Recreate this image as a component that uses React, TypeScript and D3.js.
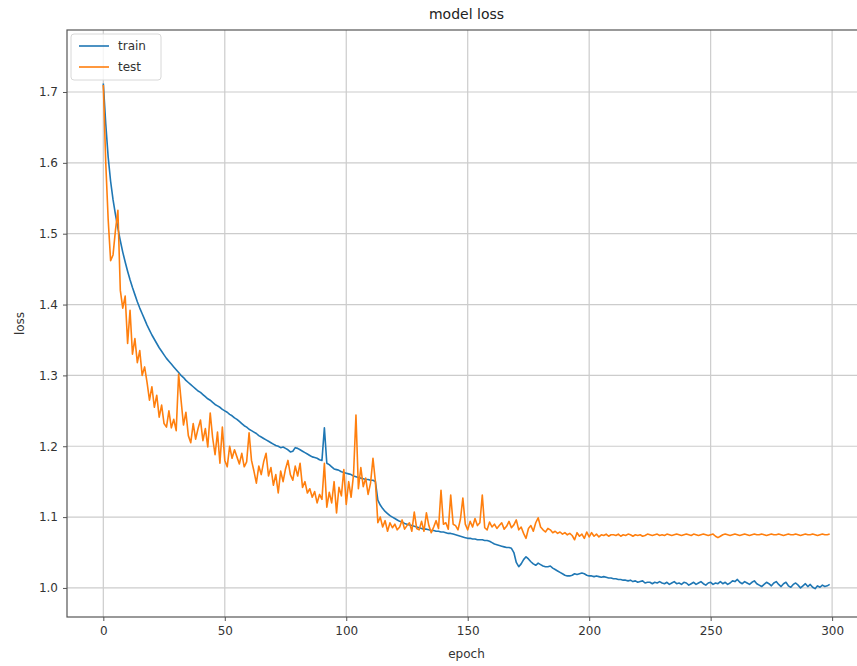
import React, { useEffect, useRef } from "react";
import * as d3 from "d3";

const trainLoss = [
  1.712, 1.655, 1.608, 1.574, 1.548, 1.527, 1.508, 1.490, 1.474, 1.460,
  1.447, 1.435, 1.424, 1.414, 1.404, 1.395, 1.387, 1.379, 1.371, 1.364,
  1.357, 1.351, 1.345, 1.339, 1.334, 1.329, 1.324, 1.320, 1.316, 1.312,
  1.308, 1.304, 1.300, 1.297, 1.293, 1.290, 1.287, 1.284, 1.281, 1.278,
  1.276, 1.273, 1.270, 1.267, 1.265, 1.262, 1.259, 1.257, 1.255, 1.252,
  1.250, 1.248, 1.245, 1.243, 1.240, 1.238, 1.235, 1.232, 1.229, 1.227,
  1.224, 1.222, 1.220, 1.218, 1.215, 1.213, 1.211, 1.209, 1.207, 1.205,
  1.203, 1.201, 1.200, 1.198, 1.199, 1.197, 1.195, 1.192, 1.193, 1.198,
  1.197, 1.195, 1.193, 1.191, 1.189, 1.187, 1.185, 1.184, 1.183, 1.181,
  1.180, 1.226, 1.176, 1.174, 1.171, 1.168, 1.167, 1.166, 1.164, 1.163,
  1.162, 1.161, 1.160, 1.158, 1.157, 1.156, 1.155, 1.154, 1.153, 1.153,
  1.152, 1.152, 1.150, 1.124, 1.117, 1.112, 1.108, 1.105, 1.102, 1.100,
  1.098, 1.096, 1.094, 1.093, 1.091, 1.090, 1.089, 1.088, 1.087, 1.086,
  1.085, 1.084, 1.083, 1.083, 1.082, 1.081, 1.081, 1.080, 1.080, 1.079,
  1.079, 1.078, 1.077, 1.077, 1.076, 1.075, 1.074, 1.073, 1.072, 1.071,
  1.070, 1.070, 1.069, 1.069, 1.068, 1.068, 1.068, 1.067, 1.067, 1.066,
  1.064, 1.062, 1.061, 1.060, 1.059, 1.058, 1.057, 1.057, 1.056, 1.050,
  1.036, 1.030, 1.034, 1.040, 1.044, 1.041, 1.037, 1.034, 1.032, 1.035,
  1.033, 1.031, 1.030, 1.030, 1.031, 1.028, 1.026, 1.024, 1.022, 1.020,
  1.018, 1.017, 1.017, 1.018, 1.020, 1.019, 1.020, 1.021, 1.020, 1.018,
  1.017, 1.017, 1.016, 1.017, 1.016, 1.015, 1.016, 1.015, 1.014, 1.014,
  1.013, 1.013, 1.012, 1.012, 1.011, 1.011, 1.010, 1.011, 1.009, 1.010,
  1.008, 1.009, 1.010, 1.007, 1.008, 1.008, 1.006, 1.008, 1.007, 1.009,
  1.007, 1.006, 1.008, 1.005, 1.007, 1.009, 1.006, 1.007, 1.005, 1.008,
  1.007, 1.004, 1.006, 1.008, 1.005, 1.007, 1.009, 1.006, 1.004, 1.007,
  1.008, 1.005, 1.007, 1.006, 1.009, 1.006, 1.008, 1.005, 1.007, 1.010,
  1.009, 1.012, 1.008, 1.006, 1.009, 1.007, 1.005, 1.008, 1.010, 1.006,
  1.004, 1.002, 1.005, 1.008, 1.006, 1.003, 1.007, 1.009, 1.005, 1.002,
  1.006, 1.008, 1.003, 1.001, 1.005, 1.007, 1.004, 1.000, 1.003, 1.006,
  1.002, 1.005, 1.001, 0.999, 1.003, 1.001, 1.004, 1.002, 1.003, 1.005,
];

const testLoss = [
  1.710, 1.600, 1.520, 1.462, 1.470, 1.505, 1.533, 1.420, 1.395, 1.412,
  1.345, 1.392, 1.330, 1.352, 1.318, 1.335, 1.300, 1.312, 1.290, 1.265,
  1.284, 1.255, 1.272, 1.241, 1.258, 1.232, 1.227, 1.250, 1.226, 1.238,
  1.222, 1.302, 1.265, 1.230, 1.248, 1.215, 1.205, 1.232, 1.210, 1.225,
  1.237, 1.208, 1.225, 1.199, 1.247, 1.212, 1.188, 1.220, 1.176, 1.227,
  1.180, 1.171, 1.200, 1.183, 1.195, 1.185, 1.175, 1.190, 1.171, 1.178,
  1.219, 1.180, 1.165, 1.148, 1.172, 1.160, 1.178, 1.190, 1.158, 1.170,
  1.145, 1.160, 1.134, 1.165, 1.150, 1.168, 1.180, 1.160, 1.152, 1.172,
  1.158, 1.176, 1.142, 1.150, 1.134, 1.140, 1.128, 1.136, 1.120, 1.132,
  1.125, 1.176, 1.114, 1.135, 1.120, 1.150, 1.106, 1.142, 1.130, 1.167,
  1.118, 1.150, 1.128, 1.160, 1.244, 1.140, 1.170, 1.143, 1.155, 1.132,
  1.148, 1.183, 1.150, 1.092, 1.100, 1.086, 1.095, 1.080, 1.092, 1.085,
  1.090, 1.082, 1.086, 1.096, 1.083, 1.088, 1.092, 1.080, 1.107, 1.084,
  1.082, 1.094, 1.080, 1.106, 1.088, 1.078, 1.086, 1.095, 1.084, 1.138,
  1.090, 1.092, 1.083, 1.131, 1.090, 1.088, 1.082, 1.097, 1.127, 1.090,
  1.082, 1.094, 1.086, 1.098, 1.088, 1.092, 1.131, 1.085, 1.082, 1.093,
  1.086, 1.090, 1.084, 1.088, 1.092, 1.083, 1.087, 1.094, 1.085, 1.089,
  1.096, 1.082, 1.086, 1.077, 1.070, 1.084, 1.088, 1.080, 1.092, 1.099,
  1.086, 1.082, 1.079, 1.084, 1.082, 1.078, 1.080, 1.077, 1.079, 1.076,
  1.078, 1.075, 1.077, 1.074, 1.068, 1.078, 1.073, 1.076, 1.070, 1.079,
  1.072, 1.078, 1.073, 1.076, 1.072, 1.075, 1.074, 1.076, 1.073, 1.075,
  1.075, 1.074, 1.076, 1.073, 1.075, 1.074, 1.076, 1.075, 1.073, 1.075,
  1.074, 1.075, 1.073, 1.074, 1.076, 1.075, 1.074, 1.075, 1.076, 1.074,
  1.075, 1.074, 1.076, 1.075, 1.074, 1.075, 1.076, 1.075, 1.074, 1.075,
  1.076, 1.075, 1.074, 1.076, 1.075, 1.074, 1.075, 1.076, 1.075, 1.074,
  1.075, 1.076, 1.073, 1.071, 1.073, 1.075, 1.076, 1.075, 1.074, 1.075,
  1.076, 1.075, 1.074, 1.075, 1.076, 1.075, 1.074, 1.075, 1.076, 1.075,
  1.075, 1.076, 1.075, 1.074, 1.075, 1.076, 1.075, 1.075, 1.076, 1.075,
  1.074, 1.075, 1.076, 1.075, 1.075, 1.076, 1.075, 1.074, 1.075, 1.076,
  1.075, 1.075, 1.076, 1.075, 1.074, 1.075, 1.076, 1.075, 1.075, 1.076,
];

const xTicks = [0, 50, 100, 150, 200, 250, 300];
const yTicks = [1.0, 1.1, 1.2, 1.3, 1.4, 1.5, 1.6, 1.7];
const seriesNames = ["train", "test"];
const seriesColors = ["#1f77b4", "#ff7f0e"];

export default function App() {
  const ref = useRef<SVGSVGElement>(null);

  useEffect(() => {
    const svg = d3.select(ref.current);
    svg.selectAll("*").remove();

    const width = 857;
    const height = 666;
    const plot = { left: 67, right: 866, top: 30, bottom: 617 };
    const font = "DejaVu Sans, sans-serif";

    const x = d3.scaleLinear().domain([-14.95, 313.95]).range([plot.left, plot.right]);
    const y = d3.scaleLinear().domain([0.959, 1.7875]).range([plot.bottom, plot.top]);

    svg.attr("width", width).attr("height", height);
    svg.append("rect").attr("width", width).attr("height", height).attr("fill", "#fff");

    // grid
    svg.append("g")
      .selectAll("line")
      .data(xTicks)
      .join("line")
      .attr("x1", d => x(d)).attr("x2", d => x(d))
      .attr("y1", plot.top).attr("y2", plot.bottom)
      .attr("stroke", "#cccccc").attr("stroke-width", 1.2);

    svg.append("g")
      .selectAll("line")
      .data(yTicks)
      .join("line")
      .attr("x1", plot.left).attr("x2", plot.right)
      .attr("y1", d => y(d)).attr("y2", d => y(d))
      .attr("stroke", "#cccccc").attr("stroke-width", 1.2);

    // lines
    const line = d3.line<number>()
      .x((_, i) => x(i))
      .y(d => y(d));

    [trainLoss, testLoss].forEach((s, k) => {
      svg.append("path")
        .datum(s)
        .attr("fill", "none")
        .attr("stroke", seriesColors[k])
        .attr("stroke-width", 1.6)
        .attr("stroke-linejoin", "round")
        .attr("d", line);
    });

    // spines
    svg.append("rect")
      .attr("x", plot.left).attr("y", plot.top)
      .attr("width", plot.right - plot.left).attr("height", plot.bottom - plot.top)
      .attr("fill", "none").attr("stroke", "#555").attr("stroke-width", 1.2);

    // axes
    const gx = svg.append("g")
      .attr("transform", `translate(0,${plot.bottom})`)
      .call(d3.axisBottom(x).tickValues(xTicks).tickSize(4).tickPadding(5).tickFormat(d3.format("d")));
    const gy = svg.append("g")
      .attr("transform", `translate(${plot.left},0)`)
      .call(d3.axisLeft(y).tickValues(yTicks).tickSize(4).tickPadding(5).tickFormat(d3.format(".1f")));
    [gx, gy].forEach(g => {
      g.select(".domain").remove();
      g.selectAll("line").attr("stroke", "#555");
      g.selectAll("text").attr("font-family", font).attr("font-size", 12).attr("fill", "#333");
    });

    // title and labels
    svg.append("text")
      .attr("x", (plot.left + plot.right) / 2).attr("y", 19)
      .attr("text-anchor", "middle")
      .attr("font-family", font).attr("font-size", 14).attr("fill", "#222")
      .text("model loss");

    svg.append("text")
      .attr("x", (plot.left + plot.right) / 2).attr("y", 658)
      .attr("text-anchor", "middle")
      .attr("font-family", font).attr("font-size", 12).attr("fill", "#333")
      .text("epoch");

    svg.append("text")
      .attr("transform", `translate(24,${(plot.top + plot.bottom) / 2}) rotate(-90)`)
      .attr("text-anchor", "middle")
      .attr("font-family", font).attr("font-size", 12).attr("fill", "#333")
      .text("loss");

    // legend
    const lg = svg.append("g").attr("transform", `translate(${plot.left + 4},${plot.top + 4})`);
    lg.append("rect")
      .attr("width", 90).attr("height", 46).attr("rx", 3)
      .attr("fill", "#fff").attr("fill-opacity", 0.8)
      .attr("stroke", "#d8d8d8");
    seriesNames.forEach((name, i) => {
      const yy = 12 + i * 21;
      lg.append("line")
        .attr("x1", 8).attr("x2", 38).attr("y1", yy).attr("y2", yy)
        .attr("stroke", seriesColors[i]).attr("stroke-width", 1.6);
      lg.append("text")
        .attr("x", 47).attr("y", yy + 4)
        .attr("font-family", font).attr("font-size", 12).attr("fill", "#333")
        .text(name);
    });
  }, []);

  return <svg ref={ref} style={{ position: "absolute", left: 0, top: 0 }}></svg>;
}
